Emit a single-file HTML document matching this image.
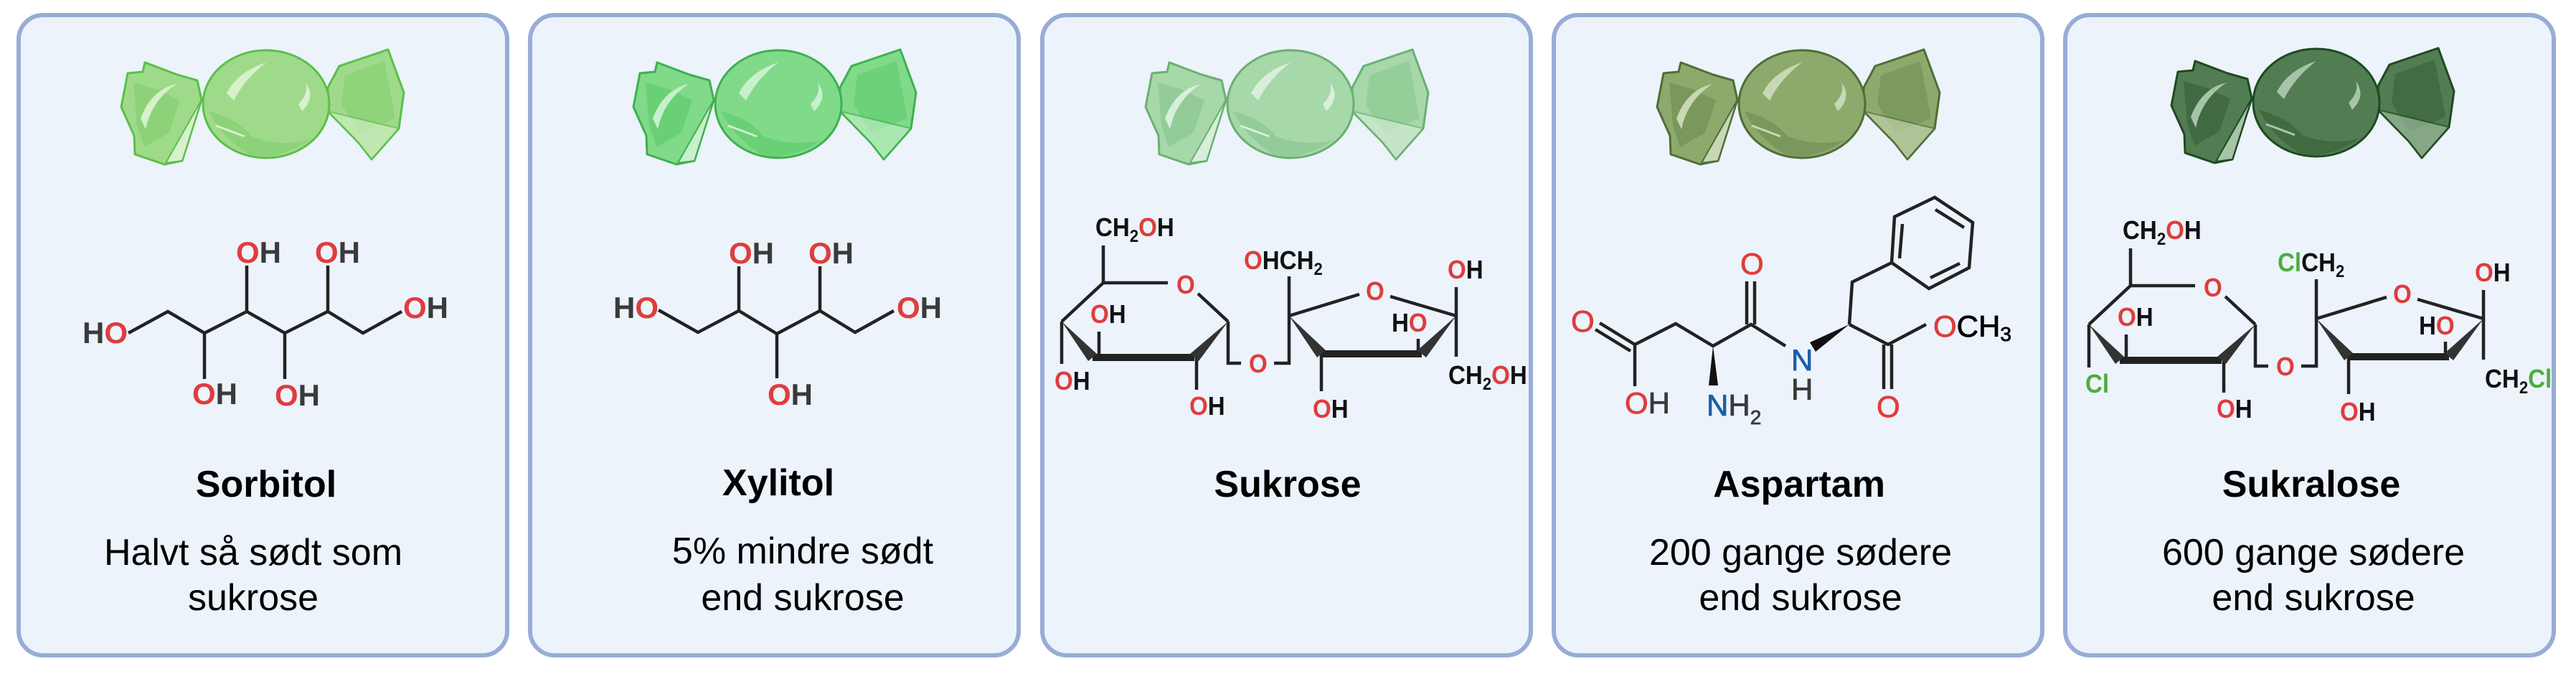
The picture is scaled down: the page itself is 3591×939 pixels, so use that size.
<!DOCTYPE html>
<html><head><meta charset="utf-8"><style>
html,body{margin:0;padding:0;background:#fff;}
svg{display:block;}
.t{font-family:"Liberation Sans",sans-serif;font-weight:bold;font-size:52px;fill:#000;text-anchor:middle;}
.s{font-family:"Liberation Sans",sans-serif;font-size:52px;fill:#000;text-anchor:middle;}
.l{font-family:"Liberation Sans",sans-serif;font-weight:bold;font-size:42px;fill:#3a3a3a;}
.a{font-family:"Liberation Sans",sans-serif;font-size:42px;fill:#3a3a3a;stroke:currentColor;stroke-width:0.8;}
.c{font-family:"Liberation Sans",sans-serif;font-weight:bold;font-size:36px;fill:#111;}
.r{fill:#e03c3c;} .n{fill:#1a5fa8;} .g{fill:#4cae3c;}
.a .r,.a.r{stroke:#e03c3c;} .a .n,.a.n{stroke:#1a5fa8;} .a{color:#3a3a3a;}
.ln{stroke:#222;stroke-width:4.5;fill:none;stroke-linecap:butt;}
</style></head><body>
<svg width="3591" height="939" viewBox="0 0 3591 939" xmlns="http://www.w3.org/2000/svg">
<defs>
<g id="candy">
  <path d="M-90,-6 L-96,-33 L-124,-41 L-169,-58 L-172,-45 L-193,-43 L-202,4 L-184,44 L-183,70 L-142,84 L-117,79 Z" fill="var(--m)" stroke="var(--k)" stroke-width="3" stroke-linejoin="round"/>
  <path d="M-185,-30 L-150,-20 L-120,-5 L-135,40 L-170,60 L-180,30 Z" fill="var(--d)" opacity="0.7"/>
  <path d="M-175,20 Q-160,-20 -125,-28 Q-160,-5 -168,35 Z" fill="var(--l)"/>
  <path d="M-90,-6 L-117,79 L-140,82 Z" fill="var(--l)" stroke="var(--k)" stroke-width="2"/>
  <path d="M86,-23 L102,-53 L170,-76 L192,-16 L185,34 L147,77 L129,54 L86,10 Z" fill="var(--m)" stroke="var(--k)" stroke-width="3" stroke-linejoin="round"/>
  <path d="M110,-40 L165,-60 L180,20 L130,40 L105,0 Z" fill="var(--d)" opacity="0.6"/>
  <path d="M86,10 L185,34 L147,77 L129,54 Z" fill="var(--l)" opacity="0.6" stroke="var(--k)" stroke-width="2"/>
  <ellipse cx="0" cy="0" rx="88" ry="75" fill="var(--m)" stroke="var(--k)" stroke-width="3"/>
  <path d="M-80,10 Q-60,50 -20,72 Q20,78 60,50 Q20,60 -20,45 Q-40,20 -80,10 Z" fill="var(--d)" opacity="0.7"/>
  <path d="M-55,-15 Q-40,-45 0,-58 Q-30,-35 -45,-5 Z" fill="var(--l)"/>
  <path d="M-70,30 L-30,45" stroke="var(--l)" stroke-width="3"/>
  <path d="M45,0 Q60,-15 55,-30 Q70,-10 50,10 Z" fill="var(--l)"/>
</g>
</defs>

<g fill="#ecf3fb" stroke="#98acd6" stroke-width="6">
<rect x="26" y="21" width="681" height="892" rx="34"/>
<rect x="739" y="21" width="681" height="892" rx="34"/>
<rect x="1453" y="21" width="681" height="892" rx="34"/>
<rect x="2166" y="21" width="681" height="892" rx="34"/>
<rect x="2879" y="21" width="681" height="892" rx="34"/>
</g>

<use href="#candy" x="371" y="145" style="--m:#9fda8a;--d:#86cf72;--l:#d6f1cb;--k:#5bbf4a"/>
<use href="#candy" x="1085" y="145" style="--m:#80da8a;--d:#5fcc6e;--l:#c8f0cc;--k:#3fb04f"/>
<use href="#candy" x="1799" y="145" style="--m:#a6d8aa;--d:#8cc890;--l:#d8eedb;--k:#6ab070"/>
<use href="#candy" x="2512" y="145" style="--m:#8daa6c;--d:#728f55;--l:#c8d8b4;--k:#4f6e38"/>
<use href="#candy" x="3229" y="143" style="--m:#527c52;--d:#3a623a;--l:#a8c4a8;--k:#1e4a20"/>

<text class="t" x="371" y="692">Sorbitol</text>
<text class="t" x="1085" y="690">Xylitol</text>
<text class="t" x="1795" y="692">Sukrose</text>
<text class="t" x="2508" y="692">Aspartam</text>
<text class="t" x="3222" y="692">Sukralose</text>

<text class="s" x="353" y="787">Halvt så sødt som</text>
<text class="s" x="353" y="850">sukrose</text>
<text class="s" x="1119" y="785">5% mindre sødt</text>
<text class="s" x="1119" y="850">end sukrose</text>
<text class="s" x="2510" y="787">200 gange sødere</text>
<text class="s" x="2510" y="850">end sukrose</text>
<text class="s" x="3225" y="787">600 gange sødere</text>
<text class="s" x="3225" y="850">end sukrose</text>

<polyline class="ln" points="179,464 234,434 285,464 344,434 397,464 457,434 506,464 560,434"/>
<line class="ln" x1="344" y1="434" x2="344" y2="370"/>
<line class="ln" x1="457" y1="434" x2="457" y2="370"/>
<line class="ln" x1="285" y1="464" x2="285" y2="528"/>
<line class="ln" x1="397" y1="464" x2="397" y2="528"/>
<text class="l" x="115" y="478">H<tspan class="r">O</tspan></text>
<text class="l" x="329" y="366"><tspan class="r">O</tspan>H</text>
<text class="l" x="439" y="366"><tspan class="r">O</tspan>H</text>
<text class="l" x="268" y="563"><tspan class="r">O</tspan>H</text>
<text class="l" x="383" y="565"><tspan class="r">O</tspan>H</text>
<text class="l" x="562" y="443"><tspan class="r">O</tspan>H</text>

<polyline class="ln" points="918,432 973,463 1030,433 1083,465 1143,433 1192,463 1246,433"/>
<line class="ln" x1="1030" y1="433" x2="1030" y2="371"/>
<line class="ln" x1="1143" y1="433" x2="1143" y2="371"/>
<line class="ln" x1="1083" y1="465" x2="1083" y2="527"/>
<text class="l" x="855" y="443">H<tspan class="r">O</tspan></text>
<text class="l" x="1016" y="367"><tspan class="r">O</tspan>H</text>
<text class="l" x="1127" y="367"><tspan class="r">O</tspan>H</text>
<text class="l" x="1070" y="564"><tspan class="r">O</tspan>H</text>
<text class="l" x="1250" y="443"><tspan class="r">O</tspan>H</text>

<g id="suc">
<g class="ln" stroke="#333">
<line x1="1538" y1="342" x2="1538" y2="394"/>
<line x1="1538" y1="394" x2="1628" y2="394"/>
<line x1="1670" y1="409" x2="1712" y2="448"/>
<line x1="1538" y1="394" x2="1480" y2="448"/>
<line x1="1532" y1="462" x2="1532" y2="498"/>
<line x1="1668" y1="498" x2="1668" y2="543"/>
<polyline points="1712,448 1712,506 1730,506"/>
<polyline points="1776,506 1797,506 1797,385"/>
<line x1="1797" y1="440" x2="1895" y2="410"/>
<line x1="1938" y1="413" x2="2030" y2="440"/>
<line x1="1842" y1="493" x2="1842" y2="545"/>
<line x1="1977" y1="472" x2="1977" y2="493"/>
<line x1="2030" y1="400" x2="2030" y2="497"/>
<line x1="1523" y1="498" x2="1665" y2="498" stroke-width="10"/>
<line x1="1842" y1="493" x2="1982" y2="493" stroke-width="10"/>
</g>
<g fill="#333">
<polygon points="1480,448 1517,503 1529,493"/>
<polygon points="1712,448 1659,493 1671,503"/>
<polygon points="1797,440 1836,498 1848,488"/>
<polygon points="2030,440 1976,488 1988,498"/>
</g>
<g transform="translate(1527,329) scale(0.92,1)"><text class="c">CH<tspan font-size="24" dy="8">2</tspan><tspan dy="-8" class="r">O</tspan>H</text></g>
<g transform="translate(1640,409) scale(0.92,1)"><text class="c r">O</text></g>
<g transform="translate(1520,450) scale(0.92,1)"><text class="c"><tspan class="r">O</tspan>H</text></g>
<g transform="translate(1658,578) scale(0.92,1)"><text class="c"><tspan class="r">O</tspan>H</text></g>
<g transform="translate(1741,519) scale(0.92,1)"><text class="c r">O</text></g>
<g transform="translate(1904,418) scale(0.92,1)"><text class="c r">O</text></g>
<g transform="translate(1830,582) scale(0.92,1)"><text class="c"><tspan class="r">O</tspan>H</text></g>
<g transform="translate(1940,462) scale(0.92,1)"><text class="c">H<tspan class="r">O</tspan></text></g>
<g transform="translate(2018,388) scale(0.92,1)"><text class="c"><tspan class="r">O</tspan>H</text></g>
</g>
<line class="ln" stroke="#333" x1="1480" y1="448" x2="1480" y2="507"/>
<g transform="translate(1470,543) scale(0.92,1)"><text class="c"><tspan class="r">O</tspan>H</text></g>
<g transform="translate(1734,375) scale(0.92,1)"><text class="c"><tspan class="r">O</tspan>HCH<tspan font-size="24" dy="8">2</tspan></text></g>
<g transform="translate(2019,535) scale(0.92,1)"><text class="c">CH<tspan font-size="24" dy="8">2</tspan><tspan dy="-8" class="r">O</tspan>H</text></g>
<use href="#suc" x="1432" y="4"/>
<line class="ln" stroke="#333" x1="2912" y1="452" x2="2912" y2="512"/>
<g transform="translate(2907,547) scale(0.92,1)"><text class="c g">Cl</text></g>
<g transform="translate(3175,378) scale(0.92,1)"><text class="c"><tspan class="g">Cl</tspan>CH<tspan font-size="24" dy="8">2</tspan></text></g>
<g transform="translate(3464,540) scale(0.92,1)"><text class="c">CH<tspan font-size="24" dy="8">2</tspan><tspan dy="-8" class="g">Cl</tspan></text></g>

<g class="ln">
<line x1="2230" y1="450" x2="2279" y2="480"/>
<line x1="2224" y1="459" x2="2273" y2="489"/>
<polyline points="2279,538 2279,480 2336,451 2388,482 2441,452 2489,482"/>
<line x1="2435" y1="452" x2="2435" y2="392"/>
<line x1="2446" y1="452" x2="2446" y2="392"/>
<polyline points="2578,452 2582,393 2637,366"/>
<polygon points="2637,366 2641,302 2697,275 2750,310 2745,373 2689,402"/>
<line x1="2648" y1="360" x2="2652" y2="312"/>
<line x1="2698" y1="292" x2="2738" y2="317"/>
<line x1="2691" y1="387" x2="2732" y2="367"/>
<polyline points="2578,452 2632,480 2685,452"/>
<line x1="2626" y1="480" x2="2626" y2="542"/>
<line x1="2637" y1="480" x2="2637" y2="542"/>
</g>
<polygon points="2388,482 2382,537 2395,537" fill="#111"/>
<polygon points="2578,452 2523,477 2531,490" fill="#111"/>
<text class="a r" x="2190" y="462">O</text>
<text class="a" x="2265" y="576"><tspan class="r">O</tspan>H</text>
<text class="a" x="2379" y="579"><tspan class="n">N</tspan>H<tspan font-size="28" dy="12">2</tspan></text>
<text class="a r" x="2426" y="382">O</text>
<text class="a n" x="2497" y="516">N</text>
<text class="a" x="2497" y="557">H</text>
<text class="a r" x="2616" y="581">O</text>
<text class="a" x="2695" y="469"><tspan class="r">O</tspan><tspan fill="#000" stroke="#000">CH<tspan font-size="28" dy="6">3</tspan></tspan></text>
</svg>
</body></html>
